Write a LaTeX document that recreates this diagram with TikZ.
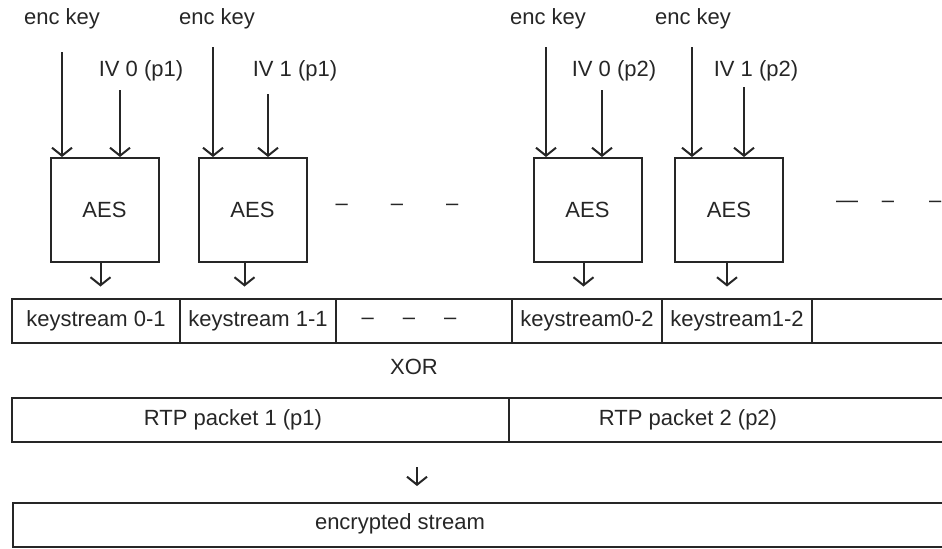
\documentclass[tikz,border=0pt]{standalone}
\usepackage{fontspec}
\setmainfont{Liberation Sans}
\usetikzlibrary{arrows.meta}

\tikzset{
    aesbox/.style={draw, minimum width=54pt, minimum height=52pt, inner sep=0pt},
    cell/.style={draw, minimum height=22pt, inner sep=0pt},
    arr/.style={-{Straight Barb[length=4pt,width=10pt]}},
}

\begin{document}
\begin{tikzpicture}[x=0.5pt, y=-0.5pt, line width=1pt, color=black!85,
        font=\fontsize{11}{13}\selectfont]
        \useasboundingbox (0,0) rectangle (942,548);

        % Bloques AES con clave e IV
        \foreach \i/\bx/\kx/\ex/\ey/\vx/\ix/\iy/\iv in {
            1/104.5/62/62/52/141/120/90/{IV 0 (p1)},
            2/252.5/217/213/47/295/268/94/{IV 1 (p1)},
            3/587.5/548/546/47/614/602/90/{IV 0 (p2)},
            4/729/693/692/47/756/744/87/{IV 1 (p2)}
            } {
            \node[aesbox] (aes\i) at (\bx,210) {AES};
            \node (key\i) at (\kx,19) {enc key};
            \node (iv\i) at (\vx,71) {\iv};
            \coordinate (ke\i) at (\ex,\ey);
            \coordinate (ie\i) at (\ix,\iy);
            \draw[arr] (ke\i) -- (ke\i |- aes\i.north);
            \draw[arr] (ie\i) -- (ie\i |- aes\i.north);
        }
        \node (dots1) at (397,207) {–\hspace{21.5pt}–\hspace{21.5pt}–};
        \node[anchor=west, inner sep=0pt] (dots2) at (835,204) {—\hspace{12pt}–\hspace{17.5pt}–};

        % Keystream
        \foreach \i/\cx/\w/\txt in {
            1/96/84pt/{keystream 0-1},
            2/258/78pt/{keystream 1-1},
            3/424/88pt/{},
            4/587/75pt/{keystream0-2},
            5/737/75pt/{keystream1-2},
            6/906/94pt/{}
            } {
            \node[cell, minimum width=\w] (ks\i) at (\cx,320.5) {\txt};
        }
        \node (dots3) at (409,321) {–\hspace{14.5pt}–\hspace{14.5pt}–};
        \foreach \a/\k/\s in {1/1/-2pt, 2/2/-4pt, 3/4/-2pt, 4/5/-1pt} {
            \draw[arr, shorten >=5.5pt] ([xshift=\s]aes\a.south) -- ([xshift=\s]aes\a.south |- ks\k.north);
        }
        \node (xor) at (414,367) {XOR};

        % Paquetes RTP
        \node[cell, minimum width=248.5pt] (rtp1) at (260.5,420) {};
        \node[cell, minimum width=245.5pt] (rtp2) at (754.5,420) {};
        \node (p1) at (233,420) {RTP packet 1 (p1)};
        \node (p2) at (688,420) {RTP packet 2 (p2)};

        % Salida cifrada
        \node[cell, minimum width=493.5pt] (enc) at (506.5,525) {};
        \node (enctxt) at (400,524) {encrypted stream};
        \coordinate (out) at (417,467);
        \draw[arr, shorten >=8pt] (out) -- (out |- enc.north);
    \end{tikzpicture}
\end{document}
